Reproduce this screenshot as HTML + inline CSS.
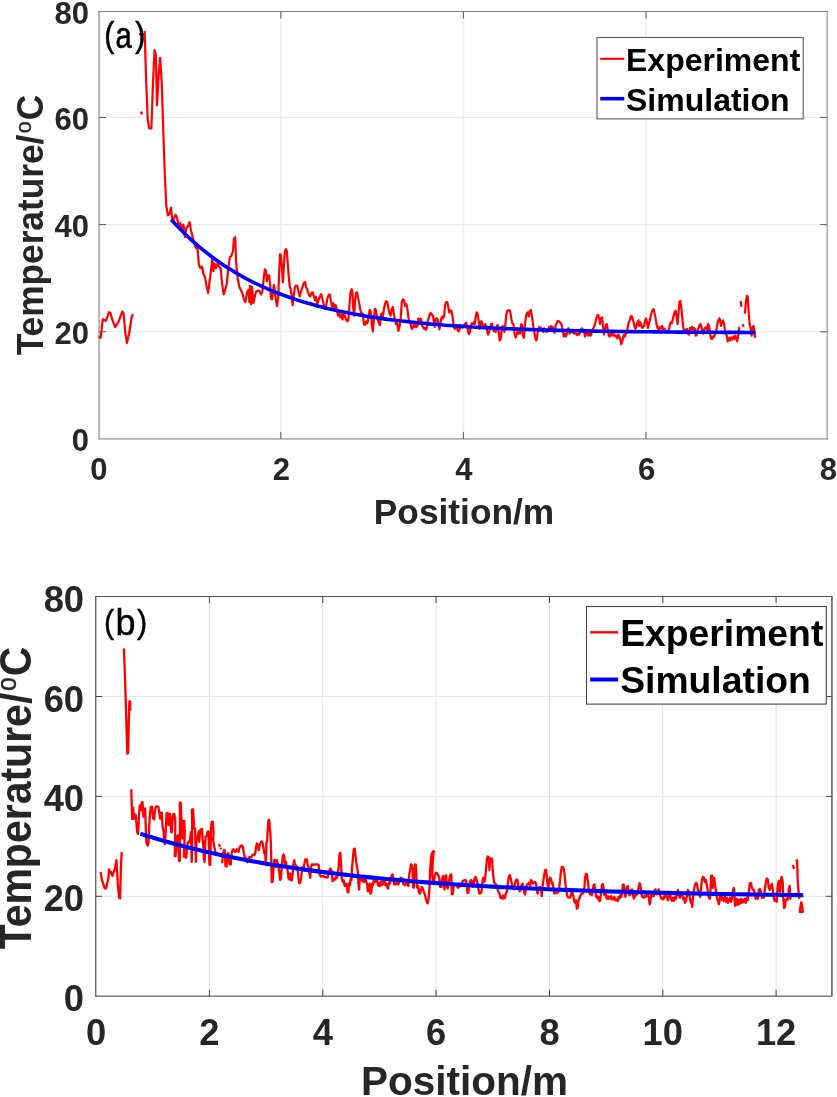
<!DOCTYPE html>
<html><head><meta charset="utf-8"><title>Temperature vs Position</title>
<style>
html,body{margin:0;padding:0;background:#fff;}
body{width:837px;height:1097px;overflow:hidden;}
svg{display:block;font-family:"Liberation Sans",Arial,sans-serif;will-change:transform;}
.tk{font-weight:bold;fill:#262626;}
.lg{font-weight:bold;fill:#000;}
</style></head><body>
<svg width="837" height="1097" viewBox="0 0 837 1097">
<rect width="837" height="1097" fill="#fff"/>
<line x1="280.8" y1="11.5" x2="280.8" y2="438.9" stroke="#f0f0f0" stroke-width="1.8"/>
<line x1="463.4" y1="11.5" x2="463.4" y2="438.9" stroke="#f0f0f0" stroke-width="1.8"/>
<line x1="646.0" y1="11.5" x2="646.0" y2="438.9" stroke="#f0f0f0" stroke-width="1.8"/>
<line x1="99.1" y1="331.8" x2="827.2" y2="331.8" stroke="#ebebeb" stroke-width="1.1"/>
<line x1="99.1" y1="224.6" x2="827.2" y2="224.6" stroke="#ebebeb" stroke-width="1.1"/>
<line x1="99.1" y1="117.4" x2="827.2" y2="117.4" stroke="#ebebeb" stroke-width="1.1"/>
<line x1="99.1" y1="11.0" x2="99.1" y2="439.7" stroke="#b6b6b6" stroke-width="2"/>
<line x1="98.1" y1="438.9" x2="827.8000000000001" y2="438.9" stroke="#b0b0b0" stroke-width="1.7"/>
<line x1="827.2" y1="11.0" x2="827.2" y2="439.7" stroke="#a0a0a0" stroke-width="1.3"/>
<line x1="98.1" y1="11.5" x2="827.8000000000001" y2="11.5" stroke="#808080" stroke-width="1"/>
<line x1="280.8" y1="438.9" x2="280.8" y2="431.9" stroke="#585858" stroke-width="1"/>
<line x1="280.8" y1="11.5" x2="280.8" y2="18.5" stroke="#585858" stroke-width="1"/>
<line x1="463.4" y1="438.9" x2="463.4" y2="431.9" stroke="#585858" stroke-width="1"/>
<line x1="463.4" y1="11.5" x2="463.4" y2="18.5" stroke="#585858" stroke-width="1"/>
<line x1="646.0" y1="438.9" x2="646.0" y2="431.9" stroke="#585858" stroke-width="1"/>
<line x1="646.0" y1="11.5" x2="646.0" y2="18.5" stroke="#585858" stroke-width="1"/>
<line x1="99.1" y1="331.8" x2="106.1" y2="331.8" stroke="#585858" stroke-width="1"/>
<line x1="827.2" y1="331.8" x2="820.2" y2="331.8" stroke="#585858" stroke-width="1"/>
<line x1="99.1" y1="224.6" x2="106.1" y2="224.6" stroke="#585858" stroke-width="1"/>
<line x1="827.2" y1="224.6" x2="820.2" y2="224.6" stroke="#585858" stroke-width="1"/>
<line x1="99.1" y1="117.4" x2="106.1" y2="117.4" stroke="#585858" stroke-width="1"/>
<line x1="827.2" y1="117.4" x2="820.2" y2="117.4" stroke="#585858" stroke-width="1"/>
<text class="tk" x="89" y="451.2" font-size="31" text-anchor="end">0</text>
<text class="tk" x="89" y="344.1" font-size="31" text-anchor="end">20</text>
<text class="tk" x="89" y="236.9" font-size="31" text-anchor="end">40</text>
<text class="tk" x="89" y="129.8" font-size="31" text-anchor="end">60</text>
<text class="tk" x="89" y="23.8" font-size="31" text-anchor="end">80</text>
<text class="tk" x="98.8" y="480.3" font-size="31" text-anchor="middle">0</text>
<text class="tk" x="281.3" y="480.3" font-size="31" text-anchor="middle">2</text>
<text class="tk" x="463.9" y="480.3" font-size="31" text-anchor="middle">4</text>
<text class="tk" x="646.5" y="480.3" font-size="31" text-anchor="middle">6</text>
<text class="tk" x="828.4" y="480.3" font-size="31" text-anchor="middle">8</text>
<text class="tk" x="464" y="524" font-size="35.3" text-anchor="middle">Position/m</text>
<text class="tk" font-size="35.25" text-anchor="middle" transform="translate(43.2,225.1) rotate(-90) scale(1,1.06)">Temperature/<tspan font-size="21.5" font-weight="normal" stroke="#262626" stroke-width="0.35" dx="1.5" dy="-11.4">o</tspan><tspan dx="0.9" dy="11.4">C</tspan></text>
<path d="M144.6,30.9 L146.2,82.0 L147.7,119.2 L149.3,128.5 L151.4,128.5 L153.0,82.0 L154.5,50.1 L155.8,54.1 L157.0,105.3 L158.6,75.8 L160.1,57.8 L161.7,82.0 L163.2,128.5 L164.8,175.0 L166.3,206.0 L167.9,215.3 L169.4,213.8 L171.0,207.6 L172.5,221.6 L174.1,218.4 L175.6,214.7 L177.2,218.4 L178.7,226.2 L180.3,223.1 L181.8,227.8 L183.4,224.7 L184.9,237.1 L186.5,227.8 L188.0,226.2 L189.6,222.2 L191.1,230.9 L192.7,237.1 L194.2,243.3 L195.8,247.9 L197.3,246.4 L198.9,265.0 L200.4,268.1 L202.0,266.5 L203.5,274.3 L205.1,277.4 L206.6,286.7 L208.2,292.9 L209.7,280.5 L211.3,268.1 L212.2,258.8 L213.4,271.2 L214.4,263.4 L215.9,268.1 L217.5,263.4 L219.0,266.5 L220.6,268.1 L222.1,283.6 L223.7,294.4 L225.2,289.8 L226.8,283.6 L228.3,268.1 L229.9,257.2 L231.4,255.7 L233.0,251.0 L233.9,238.6 L235.2,237.1 L236.1,261.9 L237.6,277.4 L239.2,286.7 L240.7,289.8 L242.3,292.9 L243.8,299.1 L245.4,302.2 L246.9,292.9 L248.5,289.8 L249.4,302.2 L250.0,285.9 L251.0,304.1 L251.9,286.9 L253.4,303.2 L254.8,296.5 L256.1,291.7 L257.6,290.7 L259.6,291.1 L261.1,294.6 L262.4,291.7 L263.8,277.3 L264.9,269.3 L265.9,270.7 L266.8,281.2 L267.8,275.4 L269.1,275.4 L270.1,285.0 L271.0,298.4 L272.0,299.3 L272.9,292.6 L273.9,285.0 L274.9,290.7 L275.8,300.3 L277.1,306.0 L278.3,296.5 L279.1,273.5 L280.0,254.0 L281.0,255.4 L281.9,267.8 L282.9,282.1 L283.8,267.8 L284.8,251.5 L285.9,249.1 L286.9,251.5 L287.8,264.0 L288.8,277.3 L289.8,286.9 L290.7,288.8 L291.7,296.5 L292.6,305.1 L293.6,296.5 L294.9,286.9 L296.3,285.4 L297.4,285.9 L298.7,292.6 L299.7,296.5 L301.2,290.7 L302.6,286.9 L303.9,282.7 L305.1,282.1 L306.0,286.9 L307.3,289.8 L308.9,294.6 L310.2,296.5 L311.6,292.6 L312.7,292.3 L314.0,296.5 L315.0,300.3 L315.9,296.5 L317.3,304.1 L318.4,300.3 L319.8,296.5 L321.1,294.2 L322.3,298.4 L323.6,304.1 L324.9,308.9 L326.1,306.0 L327.4,298.4 L328.8,294.6 L329.9,294.6 L331.1,302.2 L332.2,307.0 L333.3,303.2 L334.5,307.9 L335.6,305.1 L337.0,309.8 L337.9,315.6 L339.1,312.7 L340.2,317.5 L341.4,314.6 L342.5,319.4 L343.7,313.7 L344.8,315.6 L346.0,319.4 L347.1,321.3 L348.3,320.4 L349.4,306.0 L350.5,292.6 L351.7,289.2 L352.5,292.6 L353.2,307.9 L354.2,315.6 L355.1,300.3 L356.1,293.0 L357.0,292.3 L358.2,298.4 L359.3,304.1 L360.5,310.8 L361.6,313.7 L362.8,313.7 L363.9,324.2 L365.1,324.8 L366.2,321.3 L367.4,323.2 L368.5,317.5 L369.7,309.8 L370.8,311.8 L372.0,327.0 L372.9,331.3 L373.9,319.4 L374.8,308.9 L375.8,309.8 L376.7,315.6 L377.7,319.4 L378.8,323.2 L380.0,325.1 L380.9,314.6 L381.9,313.3 L382.9,317.5 L383.8,309.8 L385.0,304.1 L386.1,301.2 L387.3,302.2 L388.4,307.9 L389.5,313.7 L390.7,315.6 L391.8,308.9 L392.8,307.0 L393.8,313.7 L394.9,319.4 L396.0,324.2 L397.2,323.2 L398.3,330.9 L399.5,327.0 L400.6,319.4 L401.8,302.2 L402.9,299.3 L404.1,300.3 L405.2,306.0 L406.4,304.1 L407.5,309.8 L408.7,319.4 L410.7,324.1 L411.7,328.9 L412.6,327.9 L413.6,325.1 L414.6,327.0 L415.5,325.1 L416.5,327.0 L417.4,326.0 L418.4,318.4 L419.3,320.3 L420.3,318.8 L421.2,319.3 L422.2,326.0 L423.2,327.0 L424.1,328.9 L425.1,327.9 L426.0,329.8 L427.0,327.9 L427.9,320.3 L428.9,317.4 L429.9,313.6 L430.8,313.0 L431.8,314.6 L432.7,315.5 L433.7,320.3 L434.6,327.0 L435.6,319.3 L436.5,318.4 L437.5,319.3 L438.5,324.1 L439.4,329.5 L440.4,324.1 L441.3,318.4 L442.3,316.5 L443.2,318.4 L444.2,315.5 L445.1,305.0 L446.1,302.1 L447.4,302.1 L448.6,308.8 L449.3,312.6 L450.5,310.3 L451.6,311.1 L452.8,318.4 L453.7,326.0 L454.7,328.9 L455.7,327.9 L456.6,326.0 L457.6,329.8 L458.5,331.4 L459.5,329.8 L460.4,325.1 L461.4,327.0 L462.3,327.6 L463.3,327.0 L464.3,325.1 L465.2,324.1 L466.2,322.6 L467.1,326.0 L468.1,331.8 L469.0,334.1 L470.0,331.8 L470.9,326.0 L471.9,323.2 L472.9,324.1 L473.8,322.2 L474.8,324.1 L475.7,316.5 L476.7,312.3 L477.6,313.6 L478.6,320.3 L479.6,328.9 L480.5,324.1 L481.5,321.2 L482.4,324.1 L483.4,327.0 L484.3,327.9 L485.3,324.1 L486.2,326.0 L487.2,331.8 L488.2,334.6 L489.1,331.8 L490.1,327.9 L491.0,324.1 L492.0,323.7 L492.9,327.9 L493.9,331.4 L494.8,329.8 L495.8,331.8 L496.8,326.0 L497.7,325.1 L498.7,331.8 L499.6,340.4 L500.6,339.4 L501.5,331.8 L502.5,326.0 L503.4,327.0 L504.4,331.8 L505.4,324.1 L506.3,314.6 L507.3,310.7 L508.2,310.3 L509.8,310.3 L510.7,314.6 L511.7,321.2 L512.6,323.2 L513.6,325.1 L514.5,333.7 L515.5,337.5 L516.4,335.6 L517.4,331.8 L518.4,333.7 L519.3,330.8 L520.3,333.7 L521.2,324.1 L522.2,325.1 L523.1,335.6 L523.9,337.9 L524.7,327.9 L525.4,320.3 L526.6,313.6 L527.7,312.3 L528.9,316.5 L529.8,311.1 L530.8,309.8 L531.7,314.6 L532.7,322.2 L533.6,327.9 L534.6,333.7 L535.6,339.4 L536.5,340.4 L537.5,333.7 L538.4,328.9 L539.4,327.0 L540.3,328.3 L541.3,327.9 L542.3,330.8 L543.2,331.8 L544.2,328.3 L545.1,331.4 L546.1,329.8 L547.0,331.8 L548.0,331.4 L548.9,327.0 L549.9,327.9 L550.9,326.0 L551.8,328.3 L552.8,327.0 L553.7,331.8 L554.7,332.7 L555.6,326.0 L556.6,323.2 L557.5,321.2 L558.9,321.2 L560.0,322.2 L561.0,323.2 L561.9,326.0 L562.9,331.8 L563.8,336.5 L564.8,333.7 L565.7,336.5 L566.7,334.6 L567.6,328.9 L568.6,328.3 L569.6,333.7 L570.5,331.4 L571.5,329.8 L572.4,332.7 L573.4,329.8 L574.3,333.7 L575.3,332.7 L576.2,333.7 L577.2,335.2 L578.2,333.7 L579.1,334.6 L580.1,331.8 L581.0,328.9 L582.0,328.3 L582.9,329.5 L583.9,329.8 L584.9,336.5 L585.8,334.6 L586.8,332.7 L587.7,334.6 L588.7,335.6 L589.6,332.7 L590.6,335.6 L591.5,333.7 L592.5,329.8 L593.5,327.9 L594.4,326.0 L595.4,322.2 L596.3,318.4 L597.3,315.5 L598.2,314.9 L599.2,318.4 L600.1,324.1 L601.1,318.0 L602.1,317.4 L603.0,326.0 L604.0,334.6 L604.9,329.8 L605.9,325.1 L606.8,324.1 L607.8,329.8 L608.7,335.6 L609.7,336.5 L610.7,333.7 L611.6,335.6 L612.6,333.7 L613.5,335.6 L614.5,334.6 L615.4,336.5 L616.4,335.6 L617.3,338.4 L618.3,334.6 L619.3,336.5 L620.2,339.4 L621.2,344.2 L622.1,342.3 L623.1,337.5 L624.0,334.6 L625.0,336.5 L625.9,333.7 L626.9,332.7 L627.9,326.0 L628.8,322.2 L629.8,320.3 L630.7,316.5 L631.7,316.1 L632.6,318.4 L633.6,322.2 L634.6,327.0 L635.5,328.9 L636.5,326.0 L637.4,322.2 L638.4,320.3 L639.3,326.0 L640.3,322.2 L641.2,325.1 L642.2,327.9 L643.2,327.0 L644.1,326.0 L645.1,320.3 L646.0,318.4 L647.0,322.2 L647.9,327.9 L648.9,324.1 L649.8,320.3 L650.8,315.5 L651.8,311.7 L652.7,309.8 L653.7,309.2 L654.6,313.6 L655.6,318.4 L656.5,324.1 L657.5,327.9 L658.4,328.9 L659.4,327.0 L660.4,328.9 L661.3,327.0 L662.3,326.0 L663.2,329.8 L664.2,328.9 L665.1,329.8 L666.1,330.8 L667.0,331.8 L668.0,332.7 L669.0,329.8 L669.9,324.1 L670.9,322.2 L671.8,323.2 L672.8,319.3 L673.7,315.5 L674.7,311.7 L675.7,310.7 L676.6,316.5 L677.6,324.1 L678.5,312.6 L679.5,301.6 L680.4,300.8 L681.4,308.8 L682.3,318.4 L683.3,327.9 L684.3,330.8 L685.2,329.8 L686.2,330.8 L687.1,328.9 L688.1,334.1 L689.0,334.6 L690.0,327.9 L690.9,328.9 L691.9,327.0 L692.9,331.8 L693.8,327.9 L694.8,328.9 L695.7,335.6 L696.7,334.6 L697.6,329.8 L698.6,327.9 L699.5,325.1 L700.5,324.1 L701.5,327.0 L702.4,331.8 L703.4,333.7 L704.3,328.9 L705.3,327.9 L706.2,327.0 L707.2,330.8 L708.1,324.1 L709.1,326.0 L710.1,333.7 L711.0,338.4 L712.0,339.0 L712.9,336.5 L713.9,337.1 L714.8,334.6 L715.8,331.8 L716.8,327.9 L717.7,322.2 L718.7,319.3 L719.6,318.4 L720.0,320.3 L721.0,326.0 L721.9,322.2 L722.9,320.3 L723.8,322.2 L724.8,328.9 L725.7,333.7 L726.7,335.6 L727.7,341.3 L728.6,340.4 L729.6,337.5 L730.5,340.4 L731.5,337.5 L732.4,339.4 L733.4,336.5 L734.3,339.0 L735.3,335.6 L736.3,338.4 L737.2,341.3 L738.2,335.6 L739.1,327.9 L739.7,328.9" fill="none" stroke="#ff0000" stroke-width="2.2" stroke-linejoin="round"/>
<path d="M740.7,301.2 L741.4,306.9" fill="none" stroke="#ff0000" stroke-width="2.2" stroke-linejoin="round"/>
<path d="M742.9,324.1 L743.5,327.0" fill="none" stroke="#ff0000" stroke-width="2.2" stroke-linejoin="round"/>
<path d="M744.9,313.6 L745.8,303.1 L746.8,295.8 L747.7,296.4 L748.7,312.6 L749.6,324.1 L750.6,327.9 L751.6,335.6 L752.5,327.0 L753.5,326.0 L754.4,331.8 L755.0,337.9" fill="none" stroke="#ff0000" stroke-width="2.2" stroke-linejoin="round"/>
<path d="M98.7,336.3 L100.6,337.8 L102.8,319.2 L105.9,320.8 L109.0,312.1 L110.5,313.0 L112.1,319.2 L115.2,327.0 L118.3,322.3 L122.3,311.5 L123.5,313.0 L125.4,333.2 L126.9,343.1 L129.1,333.2 L131.6,317.7 L132.8,314.0" fill="none" stroke="#ff0000" stroke-width="2.2" stroke-linejoin="round"/>
<path d="M139.7,33.0 L140.6,35.5" fill="none" stroke="#ff0000" stroke-width="2.2" stroke-linejoin="round"/>
<path d="M141.2,111.5 L141.8,114.6" fill="none" stroke="#ff0000" stroke-width="2.2" stroke-linejoin="round"/>
<path d="M171.2,219.6 L175.8,224.6 L180.4,229.3 L184.9,233.8 L189.5,238.2 L194.1,242.3 L198.6,246.3 L203.2,250.1 L207.8,253.7 L212.3,257.2 L216.9,260.5 L221.5,263.7 L226.0,266.7 L230.6,269.6 L235.2,272.4 L239.7,275.0 L244.3,277.6 L248.8,280.0 L253.4,282.3 L258.0,284.5 L262.5,286.6 L267.1,288.7 L271.7,290.6 L276.2,292.4 L280.8,294.2 L285.4,295.9 L289.9,297.5 L294.5,299.1 L299.1,300.6 L303.6,302.0 L308.2,303.3 L312.8,304.6 L317.3,305.9 L321.9,307.0 L326.4,308.2 L331.0,309.3 L335.6,310.3 L340.1,311.3 L344.7,312.2 L349.3,313.1 L353.8,314.0 L358.4,314.8 L363.0,315.6 L367.5,316.4 L372.1,317.1 L376.7,317.8 L381.2,318.4 L385.8,319.1 L390.4,319.7 L394.9,320.3 L399.5,320.8 L404.1,321.3 L408.6,321.8 L413.2,322.3 L417.7,322.8 L422.3,323.2 L426.9,323.6 L431.4,324.1 L436.0,324.4 L440.6,324.8 L445.1,325.2 L449.7,325.5 L454.3,325.8 L458.8,326.1 L463.4,326.4 L468.0,326.7 L472.5,327.0 L477.1,327.2 L481.7,327.5 L486.2,327.7 L490.8,327.9 L495.4,328.2 L499.9,328.4 L504.5,328.6 L509.0,328.8 L513.6,328.9 L518.2,329.1 L522.7,329.3 L527.3,329.4 L531.9,329.6 L536.4,329.7 L541.0,329.9 L545.6,330.0 L550.1,330.1 L554.7,330.2 L559.3,330.4 L563.8,330.5 L568.4,330.6 L573.0,330.7 L577.5,330.8 L582.1,330.9 L586.7,330.9 L591.2,331.0 L595.8,331.1 L600.3,331.2 L604.9,331.3 L609.5,331.3 L614.0,331.4 L618.6,331.5 L623.2,331.5 L627.7,331.6 L632.3,331.6 L636.9,331.7 L641.4,331.7 L646.0,331.8 L650.6,331.8 L655.1,331.9 L659.7,331.9 L664.3,332.0 L668.8,332.0 L673.4,332.0 L678.0,332.1 L682.5,332.1 L687.1,332.1 L691.6,332.2 L696.2,332.2 L700.8,332.2 L705.3,332.3 L709.9,332.3 L714.5,332.3 L719.0,332.3 L723.6,332.4 L728.2,332.4 L732.7,332.4 L737.3,332.4 L741.9,332.4 L746.4,332.5 L751.0,332.5 L755.6,332.5" fill="none" stroke="#0000ff" stroke-width="3.6" stroke-linecap="butt"/>
<rect x="597" y="37.5" width="206.2" height="81.4" fill="#fff" stroke="#5a5a5a" stroke-width="1.1"/>
<line x1="600.2" y1="58.8" x2="624.3" y2="58.8" stroke="#ff0000" stroke-width="2.1"/>
<line x1="600.2" y1="98.7" x2="624.3" y2="98.7" stroke="#0000ff" stroke-width="3.6"/>
<text class="lg" x="626" y="70.7" font-size="32">Experiment</text>
<text class="lg" x="626" y="110.6" font-size="32">Simulation</text>
<text font-size="35" fill="#000" stroke="#000" stroke-width="0.6" transform="translate(104.2,46.8) scale(0.86,1)">(</text>
<text font-size="36.5" fill="#000" stroke="#000" stroke-width="0.6" transform="translate(115.6,47.6) scale(0.8,1)">a</text>
<text font-size="35" fill="#000" stroke="#000" stroke-width="0.6" transform="translate(135.2,46.8) scale(0.86,1)">)</text>
<line x1="209.4" y1="596.5" x2="209.4" y2="996.2" stroke="#e2e2e2" stroke-width="1"/>
<line x1="322.8" y1="596.5" x2="322.8" y2="996.2" stroke="#e2e2e2" stroke-width="1"/>
<line x1="436.1" y1="596.5" x2="436.1" y2="996.2" stroke="#e2e2e2" stroke-width="1"/>
<line x1="549.5" y1="596.5" x2="549.5" y2="996.2" stroke="#e2e2e2" stroke-width="1"/>
<line x1="662.8" y1="596.5" x2="662.8" y2="996.2" stroke="#e2e2e2" stroke-width="1"/>
<line x1="776.1" y1="596.5" x2="776.1" y2="996.2" stroke="#e2e2e2" stroke-width="1"/>
<line x1="95.75" y1="896.3" x2="832.3" y2="896.3" stroke="#e9e9e9" stroke-width="1.2"/>
<line x1="95.75" y1="796.4" x2="832.3" y2="796.4" stroke="#e9e9e9" stroke-width="1.2"/>
<line x1="95.75" y1="696.5" x2="832.3" y2="696.5" stroke="#e9e9e9" stroke-width="1.2"/>
<line x1="95.75" y1="595.9" x2="95.75" y2="996.8000000000001" stroke="#606060" stroke-width="1.3"/>
<line x1="95.15" y1="996.2" x2="831.9" y2="996.2" stroke="#606060" stroke-width="1.25"/>
<line x1="831.9" y1="595.9" x2="831.9" y2="996.8000000000001" stroke="#747474" stroke-width="1.8"/>
<line x1="95.15" y1="596.5" x2="832.5" y2="596.5" stroke="#565656" stroke-width="1.2"/>
<line x1="209.4" y1="996.2" x2="209.4" y2="989.7" stroke="#444444" stroke-width="1"/>
<line x1="209.4" y1="596.5" x2="209.4" y2="603.0" stroke="#444444" stroke-width="1"/>
<line x1="322.8" y1="996.2" x2="322.8" y2="989.7" stroke="#444444" stroke-width="1"/>
<line x1="322.8" y1="596.5" x2="322.8" y2="603.0" stroke="#444444" stroke-width="1"/>
<line x1="436.1" y1="996.2" x2="436.1" y2="989.7" stroke="#444444" stroke-width="1"/>
<line x1="436.1" y1="596.5" x2="436.1" y2="603.0" stroke="#444444" stroke-width="1"/>
<line x1="549.5" y1="996.2" x2="549.5" y2="989.7" stroke="#444444" stroke-width="1"/>
<line x1="549.5" y1="596.5" x2="549.5" y2="603.0" stroke="#444444" stroke-width="1"/>
<line x1="662.8" y1="996.2" x2="662.8" y2="989.7" stroke="#444444" stroke-width="1"/>
<line x1="662.8" y1="596.5" x2="662.8" y2="603.0" stroke="#444444" stroke-width="1"/>
<line x1="776.1" y1="996.2" x2="776.1" y2="989.7" stroke="#444444" stroke-width="1"/>
<line x1="776.1" y1="596.5" x2="776.1" y2="603.0" stroke="#444444" stroke-width="1"/>
<line x1="95.75" y1="896.3" x2="102.25" y2="896.3" stroke="#444444" stroke-width="1"/>
<line x1="832.3" y1="896.3" x2="825.8" y2="896.3" stroke="#444444" stroke-width="1"/>
<line x1="95.75" y1="796.4" x2="102.25" y2="796.4" stroke="#444444" stroke-width="1"/>
<line x1="832.3" y1="796.4" x2="825.8" y2="796.4" stroke="#444444" stroke-width="1"/>
<line x1="95.75" y1="696.5" x2="102.25" y2="696.5" stroke="#444444" stroke-width="1"/>
<line x1="832.3" y1="696.5" x2="825.8" y2="696.5" stroke="#444444" stroke-width="1"/>
<text class="tk" x="84" y="1011.2" font-size="36.3" text-anchor="end">0</text>
<text class="tk" x="84" y="911.3" font-size="36.3" text-anchor="end">20</text>
<text class="tk" x="84" y="811.4" font-size="36.3" text-anchor="end">40</text>
<text class="tk" x="84" y="711.5" font-size="36.3" text-anchor="end">60</text>
<text class="tk" x="84" y="611.5" font-size="36.3" text-anchor="end">80</text>
<text class="tk" x="96.1" y="1045" font-size="36.3" text-anchor="middle">0</text>
<text class="tk" x="209.4" y="1045" font-size="36.3" text-anchor="middle">2</text>
<text class="tk" x="322.8" y="1045" font-size="36.3" text-anchor="middle">4</text>
<text class="tk" x="436.1" y="1045" font-size="36.3" text-anchor="middle">6</text>
<text class="tk" x="549.5" y="1045" font-size="36.3" text-anchor="middle">8</text>
<text class="tk" x="662.8" y="1045" font-size="36.3" text-anchor="middle">10</text>
<text class="tk" x="776.1" y="1045" font-size="36.3" text-anchor="middle">12</text>
<text class="tk" x="464.5" y="1094.5" font-size="40.5" text-anchor="middle">Position/m</text>
<text class="tk" font-size="41.0" text-anchor="middle" transform="translate(31.0,798) rotate(-90) scale(1,1.09)">Temperature/<tspan font-size="25" font-weight="normal" stroke="#262626" stroke-width="0.4" dx="1.7" dy="-13.4">o</tspan><tspan dx="0.9" dy="13.4">C</tspan></text>
<path d="M221.3,861.9 L222.2,862.3 L223.0,853.5 L223.9,850.2 L224.7,850.2 L225.1,858.5 L225.5,866.1 L226.6,866.5 L227.2,858.5 L227.6,853.5 L228.5,853.5 L229.1,860.2 L229.7,864.4 L230.8,864.4 L231.1,858.5 L231.6,853.5 L232.5,850.2 L233.5,849.3 L234.3,850.2 L235.1,851.9 L236.0,851.0 L236.8,849.3 L237.7,850.2 L238.5,851.9 L239.3,848.5 L240.2,846.4 L241.0,845.6 L242.3,845.6 L243.1,848.5 L243.9,853.5 L244.8,856.9 L245.6,857.7 L246.4,860.2 L247.3,862.3 L248.1,860.2 L248.9,857.7 L249.8,856.9 L250.6,857.7 L251.5,856.9 L252.3,855.2 L253.5,854.4 L254.4,855.2 L255.2,853.5 L256.1,846.8 L256.9,843.5 L257.7,844.3 L258.6,850.2 L259.4,846.8 L260.2,843.5 L261.1,841.8 L261.9,841.4 L262.7,843.5 L263.6,848.5 L264.4,853.5 L265.1,851.9 L265.9,865.2 L266.4,843.5 L267.1,840.1 L267.7,830.1 L268.4,820.1 L269.2,819.7 L270.1,830.1 L270.9,843.5 L271.4,866.9 L271.7,882.0 L272.6,882.0 L273.4,870.3 L274.3,860.2 L275.1,859.9 L275.9,866.9 L276.8,860.2 L277.6,863.6 L278.4,866.9 L279.3,871.9 L280.1,880.0 L280.9,878.6 L281.8,866.9 L282.6,856.9 L283.5,854.4 L284.3,856.9 L285.1,866.9 L286.0,861.9 L286.8,866.9 L287.6,870.3 L288.5,878.6 L289.3,879.5 L290.1,873.6 L291.0,880.0 L291.8,880.3 L292.7,873.6 L293.5,863.6 L294.3,860.2 L295.2,866.9 L296.0,865.2 L296.8,866.9 L297.7,870.3 L298.5,878.6 L299.3,883.3 L300.2,882.8 L301.0,878.6 L301.9,871.9 L302.7,866.9 L303.5,868.6 L304.4,863.6 L305.2,859.4 L306.9,859.4 L307.7,865.2 L308.5,866.9 L309.4,873.6 L310.2,877.8 L311.1,866.9 L311.9,864.4 L313.6,864.9 L315.2,864.4 L316.9,864.4 L318.6,864.9 L319.1,870.3 L319.9,875.3 L321.1,876.6 L322.8,876.1 L324.4,876.9 L326.1,877.3 L327.8,877.3 L328.6,873.6 L329.5,870.3 L330.3,868.6 L331.1,869.4 L332.0,873.6 L332.5,881.1 L333.6,880.3 L334.5,878.6 L335.3,879.5 L336.1,876.9 L337.0,877.8 L337.8,873.6 L338.6,866.9 L339.5,853.5 L340.3,852.7 L341.2,866.9 L341.7,878.6 L342.8,882.0 L343.7,880.3 L344.5,885.3 L345.3,886.1 L346.2,883.6 L347.0,885.3 L347.5,892.0 L348.4,892.3 L349.0,883.6 L349.9,885.3 L350.7,878.6 L351.5,880.3 L352.0,868.6 L352.9,858.5 L353.7,849.3 L354.7,848.8 L355.4,855.2 L356.2,861.9 L357.0,866.9 L357.9,871.9 L358.4,883.6 L359.1,889.5 L359.7,878.6 L360.4,880.3 L361.2,878.6 L362.1,881.1 L362.9,878.6 L363.7,882.0 L364.6,880.3 L365.4,878.6 L366.2,882.0 L367.1,883.6 L367.8,891.2 L368.4,885.3 L369.1,891.2 L369.8,883.6 L370.4,893.7 L371.3,892.8 L372.1,883.6 L372.9,885.3 L373.8,880.3 L374.6,878.6 L375.4,882.0 L376.3,879.5 L377.1,880.3 L378.0,885.3 L378.8,883.6 L379.6,886.1 L380.5,882.0 L381.3,885.3 L382.1,881.1 L383.0,884.5 L383.8,882.0 L384.6,880.3 L385.5,885.3 L386.3,883.6 L387.2,887.0 L388.0,888.6 L388.8,883.6 L389.7,882.0 L390.0,883.6 L390.8,878.5 L391.7,875.2 L392.5,874.4 L393.3,877.7 L394.2,884.4 L395.0,883.6 L395.9,884.4 L396.7,881.9 L397.5,883.6 L398.4,884.4 L399.2,881.9 L400.0,878.5 L400.9,877.7 L401.7,879.4 L402.5,878.5 L403.4,884.4 L404.2,883.6 L405.1,885.2 L405.9,884.4 L406.7,881.9 L407.6,884.4 L408.4,886.1 L409.2,875.2 L410.1,870.2 L410.9,864.3 L411.7,864.8 L412.6,870.2 L413.1,886.9 L413.8,887.7 L414.3,870.2 L415.1,864.3 L415.9,864.8 L416.4,876.9 L417.1,887.7 L418.1,886.1 L418.8,891.9 L419.8,893.6 L420.8,890.3 L421.8,886.9 L422.8,888.6 L423.8,891.9 L424.8,894.4 L425.8,898.6 L426.8,902.0 L427.8,903.3 L428.8,896.9 L429.5,886.9 L430.1,870.2 L431.0,858.5 L431.8,853.5 L432.8,851.8 L433.8,850.9 L433.2,856.8 L432.7,863.5 L432.2,875.2 L433.2,881.9 L433.8,883.6 L434.8,875.2 L436.0,872.7 L437.2,873.2 L438.2,875.2 L439.2,877.7 L440.2,886.9 L441.2,886.9 L442.2,878.5 L443.2,876.0 L443.9,886.9 L444.5,889.4 L445.2,876.9 L446.2,875.2 L446.9,886.9 L447.7,888.6 L448.5,885.2 L449.4,878.5 L450.2,875.2 L451.2,874.4 L451.6,886.9 L451.9,894.4 L452.9,893.6 L453.6,885.2 L455.2,884.4 L456.9,885.2 L457.7,887.7 L459.4,886.9 L461.1,884.4 L462.8,881.1 L464.4,880.2 L466.1,880.5 L466.9,886.9 L467.4,892.8 L468.3,892.8 L468.9,886.9 L470.0,881.9 L471.1,879.9 L472.0,881.1 L472.8,886.9 L473.6,886.1 L474.5,878.5 L475.6,876.9 L476.6,880.2 L477.6,883.6 L478.6,890.3 L479.5,893.6 L481.2,892.8 L482.0,886.9 L482.8,878.5 L483.7,877.7 L484.5,881.9 L485.3,876.9 L486.2,866.8 L487.0,858.5 L487.8,856.5 L488.7,857.1 L489.5,870.2 L490.0,860.1 L490.9,858.5 L492.0,858.8 L492.7,870.2 L493.4,876.9 L494.0,881.9 L495.0,883.6 L496.2,884.4 L497.0,886.9 L497.9,890.3 L498.7,892.8 L499.6,893.6 L500.4,897.8 L502.1,898.3 L502.9,895.3 L503.7,898.6 L505.1,897.8 L505.7,893.6 L506.8,891.9 L507.4,886.9 L508.1,881.9 L508.8,876.9 L509.8,875.2 L510.8,878.5 L511.8,883.6 L512.8,888.6 L513.8,889.4 L514.6,885.2 L515.4,881.9 L516.5,879.4 L517.5,880.2 L518.5,886.9 L519.5,891.1 L520.5,890.3 L521.5,885.2 L522.5,883.6 L523.5,886.9 L524.5,893.6 L525.1,894.4 L526.2,886.9 L527.2,884.4 L528.2,883.6 L529.2,882.7 L530.0,886.9 L530.8,880.2 L532.0,881.0 L533.0,883.5 L534.0,882.7 L535.0,881.9 L536.0,883.5 L536.7,888.5 L537.5,893.6 L538.4,890.2 L539.2,887.7 L540.0,886.9 L540.9,888.5 L541.7,896.1 L542.5,886.9 L543.4,880.2 L544.2,875.2 L545.1,870.1 L546.1,869.8 L546.7,875.2 L547.6,885.2 L548.4,886.9 L549.2,880.2 L550.1,877.7 L550.9,878.5 L551.7,883.5 L552.6,882.7 L553.4,888.5 L554.3,893.6 L555.1,892.7 L556.8,893.2 L558.4,891.9 L559.3,886.9 L560.1,880.2 L560.9,871.8 L561.8,867.1 L563.1,866.8 L564.0,870.1 L564.8,876.8 L565.5,884.4 L566.1,888.5 L566.8,893.6 L567.6,896.9 L568.5,897.7 L570.1,897.7 L571.0,894.4 L571.8,891.9 L572.7,893.6 L573.5,896.9 L574.3,901.9 L575.2,902.8 L576.0,900.3 L576.8,908.6 L577.7,907.8 L578.5,900.3 L579.3,898.6 L580.2,896.1 L581.0,894.4 L581.9,893.6 L583.5,893.2 L584.4,886.9 L585.2,876.8 L586.0,873.8 L586.9,874.3 L587.7,880.2 L588.5,886.9 L589.4,892.7 L590.2,894.4 L591.1,891.9 L591.9,895.2 L592.7,890.2 L593.6,885.2 L594.4,884.4 L595.2,890.2 L596.1,896.9 L596.9,896.1 L597.7,898.6 L598.6,896.9 L599.4,901.1 L600.3,900.3 L601.1,891.9 L601.9,885.2 L602.8,883.9 L603.6,888.5 L604.4,895.2 L605.3,890.2 L606.1,896.9 L606.9,898.6 L607.8,896.1 L608.6,898.9 L609.5,896.9 L610.3,898.6 L611.1,896.1 L612.0,899.4 L612.8,897.7 L613.6,899.4 L614.5,896.9 L615.3,900.3 L616.1,899.4 L617.0,900.3 L617.8,901.1 L618.6,896.9 L619.5,898.6 L620.3,895.2 L621.2,896.9 L622.0,893.6 L622.8,885.2 L623.7,884.4 L624.5,890.2 L625.3,896.9 L626.2,893.6 L627.0,886.9 L627.8,886.0 L628.7,891.9 L629.5,895.2 L630.4,894.4 L631.2,890.2 L632.0,889.4 L632.9,893.6 L633.7,898.6 L634.5,896.9 L635.4,894.4 L636.2,895.2 L637.0,893.6 L637.9,891.9 L638.7,886.9 L639.6,883.2 L640.4,885.2 L641.2,891.9 L642.1,896.9 L642.9,896.1 L643.7,897.7 L644.6,896.1 L645.4,896.9 L646.2,895.2 L647.1,896.1 L647.9,894.4 L648.8,896.1 L649.6,904.4 L650.4,900.3 L651.3,895.2 L652.1,896.1 L652.9,894.4 L653.8,896.1 L654.6,890.2 L655.4,889.4 L656.3,893.6 L657.1,894.4 L658.0,890.2 L658.8,889.4 L659.6,893.6 L660.5,896.1 L661.3,898.6 L662.1,897.7 L663.0,899.4 L663.8,898.6 L664.6,895.2 L665.5,896.9 L666.3,894.4 L667.2,896.9 L668.0,900.3 L668.8,896.9 L669.7,895.2 L670.0,893.8 L671.0,898.8 L672.0,900.8 L673.0,897.8 L674.0,900.8 L675.0,896.8 L676.0,898.8 L677.0,891.9 L678.0,889.9 L679.0,895.8 L680.0,897.8 L681.0,893.8 L682.0,891.9 L683.0,898.8 L684.0,897.8 L685.0,902.8 L686.0,899.8 L687.0,895.8 L688.0,889.9 L689.0,891.9 L690.0,898.8 L690.9,902.8 L691.5,899.8 L692.3,906.8 L692.9,898.8 L693.9,889.9 L694.9,884.9 L695.9,882.9 L696.9,883.9 L697.9,889.9 L698.9,891.9 L699.9,896.8 L700.9,889.9 L701.9,879.9 L702.9,876.9 L703.9,877.9 L704.9,881.9 L705.9,879.9 L706.9,885.9 L707.9,891.9 L708.9,897.8 L709.9,898.8 L710.5,889.9 L711.1,875.9 L711.9,875.5 L712.7,887.9 L713.5,877.9 L714.3,877.9 L715.1,885.9 L715.9,889.9 L716.9,897.8 L717.9,900.8 L718.9,904.2 L719.9,897.8 L720.9,892.8 L721.9,899.8 L722.9,897.8 L723.9,900.8 L724.9,896.8 L725.9,901.8 L726.9,897.8 L727.9,902.8 L728.9,900.8 L729.9,897.8 L730.9,901.8 L731.9,898.8 L732.8,891.9 L733.8,887.9 L734.4,893.8 L735.0,905.8 L735.8,904.8 L736.8,898.8 L737.8,904.8 L738.8,899.8 L739.8,903.8 L740.8,898.8 L741.8,902.8 L742.8,899.8 L743.8,901.8 L744.8,898.8 L745.8,902.8 L746.8,897.8 L747.8,899.8 L748.8,891.9 L749.8,883.5 L750.8,882.9 L751.8,886.9 L752.8,889.9 L753.8,889.9 L754.8,893.8 L755.8,898.8 L756.8,897.8 L757.8,898.8 L758.8,889.9 L759.8,888.9 L760.8,891.9 L761.8,897.8 L762.8,896.8 L763.8,897.8 L764.8,889.9 L765.8,881.9 L766.8,878.3 L767.8,879.9 L768.8,887.9 L769.8,889.9 L770.8,885.9 L771.8,883.9 L772.8,889.9 L773.8,897.8 L774.7,900.8 L775.7,898.8 L776.7,901.8 L777.7,885.9 L778.7,880.9 L779.3,889.9 L780.1,891.9 L780.9,879.9 L781.7,876.9 L782.7,881.9 L783.3,897.8 L784.1,907.8 L784.9,906.8 L785.7,899.8 L786.7,898.8 L787.7,899.8 L788.7,889.9 L789.7,885.9 L790.3,898.8 L791.3,893.8" fill="none" stroke="#ff0000" stroke-width="2.3" stroke-linejoin="round"/>
<path d="M100.6,872.0 L101.9,879.9 L103.2,883.9 L104.5,887.9 L105.9,888.6 L107.2,883.9 L108.5,877.3 L109.0,869.3 L110.1,873.3 L111.2,872.0 L112.5,876.0 L113.8,872.0 L115.1,868.0 L116.4,860.1 L117.8,883.9 L119.1,897.6 L120.1,898.4 L120.9,868.0 L121.7,852.1" fill="none" stroke="#ff0000" stroke-width="2.3" stroke-linejoin="round"/>
<path d="M123.9,648.5 L125.2,682.9 L126.2,717.3 L127.3,753.8 L128.1,753.0 L128.9,717.3 L129.4,701.4 L130.2,701.4 L130.2,710.7" fill="none" stroke="#ff0000" stroke-width="2.3" stroke-linejoin="round"/>
<path d="M218.8,844.3 L220.1,846.8" fill="none" stroke="#ff0000" stroke-width="2.3" stroke-linejoin="round"/>
<path d="M220.5,847.7 L221.3,849.3" fill="none" stroke="#ff0000" stroke-width="2.3" stroke-linejoin="round"/>
<path d="M131.3,789.2 L131.7,805.9 L132.2,818.9 L133.2,807.6 L133.8,818.9 L134.7,814.3 L135.7,815.1 L136.4,822.6 L137.2,832.3 L138.0,833.9 L138.7,822.6 L139.2,812.6 L139.7,805.9 L140.5,805.1 L141.2,810.1 L141.7,802.6 L142.5,802.1 L143.0,810.1 L143.4,816.8 L144.2,809.3 L145.1,808.4 L145.5,818.5 L145.9,831.0 L146.4,842.7 L147.6,845.6 L148.4,843.5 L148.9,835.2 L149.4,822.6 L150.1,812.6 L150.9,806.7 L152.2,806.9 L152.6,812.6 L153.1,818.5 L154.3,819.3 L154.7,812.6 L155.1,810.1 L155.9,806.7 L157.2,806.3 L158.4,806.9 L158.9,810.1 L159.4,813.4 L160.1,818.5 L160.9,812.6 L161.8,812.6 L162.2,820.1 L162.6,826.8 L163.5,830.2 L163.9,836.9 L164.3,843.5 L165.1,844.0 L165.5,835.2 L166.0,825.1 L166.5,813.4 L167.6,813.0 L168.1,818.5 L168.5,825.1 L169.0,818.5 L169.3,814.3 L170.1,813.9 L170.6,820.1 L171.0,831.8 L171.8,832.3 L172.2,824.3 L172.7,818.5 L173.2,814.3 L174.3,813.9 L174.7,816.8 L175.2,817.6 L175.3,826.8 L175.0,843.5 L174.7,856.1 L175.6,856.1 L176.0,848.6 L176.8,838.5 L177.8,835.2 L178.5,850.2 L179.0,861.1 L179.8,860.7 L180.0,843.5 L179.9,818.5 L179.8,802.6 L180.7,802.6 L181.0,810.1 L181.5,820.1 L181.9,831.8 L182.4,838.5 L182.7,828.5 L183.2,821.0 L184.4,821.0 L184.7,831.8 L184.4,843.5 L183.9,856.9 L184.8,856.9 L185.5,848.6 L186.2,857.8 L186.9,850.2 L187.7,842.7 L188.5,842.7 L189.4,841.0 L190.2,838.5 L190.9,831.8 L191.2,843.5 L191.7,861.9 L192.2,843.5 L192.1,818.5 L191.9,809.7 L193.1,809.3 L193.6,818.5 L194.1,828.5 L195.1,828.5 L195.4,843.5 L195.9,861.9 L196.4,843.5 L196.9,836.9 L197.7,838.5 L198.6,831.8 L199.4,830.6 L199.2,841.8 L200.0,833.5 L200.9,829.3 L202.1,828.9 L202.5,837.6 L203.4,846.8 L203.8,858.5 L204.6,861.9 L205.0,850.2 L205.5,836.8 L206.7,836.0 L207.5,831.8 L208.4,831.4 L208.8,841.8 L209.1,854.4 L209.4,864.8 L210.2,864.8 L210.6,850.2 L210.9,833.5 L211.3,825.1 L211.7,821.9 L212.7,821.7 L213.2,827.6 L213.6,833.5 L213.0,840.1 L213.8,843.5 L214.4,846.8 L215.1,850.2 L215.9,854.4 L216.6,855.6" fill="none" stroke="#ff0000" stroke-width="2.3" stroke-linejoin="round"/>
<path d="M792.7,864.9 L794.1,868.9" fill="none" stroke="#ff0000" stroke-width="2.3" stroke-linejoin="round"/>
<path d="M795.7,861.5 L797.1,860.3 L797.7,879.9 L798.7,893.8 L799.3,898.8" fill="none" stroke="#ff0000" stroke-width="2.3" stroke-linejoin="round"/>
<path d="M801.3,901.8 L799.7,911.8 L802.9,911.8 L801.3,901.8" fill="none" stroke="#ff0000" stroke-width="2.3" stroke-linejoin="round"/>
<path d="M140.3,833.8 L146.0,835.6 L151.6,837.3 L157.3,839.0 L163.0,840.6 L168.6,842.2 L174.3,843.8 L180.0,845.3 L185.6,846.8 L191.3,848.2 L197.0,849.6 L202.6,850.9 L208.3,852.2 L214.0,853.5 L219.6,854.7 L225.3,855.9 L231.0,857.1 L236.6,858.2 L242.3,859.3 L248.0,860.4 L253.6,861.4 L259.3,862.4 L265.0,863.4 L270.6,864.4 L276.3,865.3 L282.0,866.2 L287.6,867.1 L293.3,867.9 L299.0,868.8 L304.6,869.6 L310.3,870.4 L316.0,871.1 L321.6,871.9 L327.3,872.6 L333.0,873.3 L338.6,874.0 L344.3,874.6 L350.0,875.3 L355.6,875.9 L361.3,876.5 L367.0,877.1 L372.6,877.6 L378.3,878.2 L384.0,878.7 L389.7,879.3 L395.3,879.8 L401.0,880.3 L406.7,880.8 L412.3,881.2 L418.0,881.7 L423.7,882.1 L429.3,882.6 L435.0,883.0 L440.7,883.4 L446.3,883.8 L452.0,884.2 L457.7,884.5 L463.3,884.9 L469.0,885.2 L474.7,885.6 L480.3,885.9 L486.0,886.2 L491.7,886.6 L497.3,886.9 L503.0,887.2 L508.7,887.4 L514.3,887.7 L520.0,888.0 L525.7,888.3 L531.3,888.5 L537.0,888.8 L542.7,889.0 L548.3,889.3 L554.0,889.5 L559.7,889.7 L565.3,889.9 L571.0,890.1 L576.7,890.3 L582.3,890.5 L588.0,890.7 L593.7,890.9 L599.3,891.1 L605.0,891.3 L610.7,891.5 L616.3,891.6 L622.0,891.8 L627.7,891.9 L633.3,892.1 L639.0,892.2 L644.7,892.4 L650.3,892.5 L656.0,892.7 L661.7,892.8 L667.3,892.9 L673.0,893.1 L678.7,893.2 L684.3,893.3 L690.0,893.4 L695.7,893.5 L701.3,893.6 L707.0,893.7 L712.7,893.9 L718.3,894.0 L724.0,894.1 L729.7,894.1 L735.3,894.2 L741.0,894.3 L746.7,894.4 L752.3,894.5 L758.0,894.6 L763.7,894.7 L769.3,894.7 L775.0,894.8 L780.7,894.9 L786.3,895.0 L792.0,895.0 L797.7,895.1 L803.3,895.2" fill="none" stroke="#0000ff" stroke-width="4.1"/>
<rect x="586.5" y="606.5" width="239.8" height="97.6" fill="#fff" stroke="#4a4a4a" stroke-width="1.15"/>
<line x1="590.2" y1="632.3" x2="618.2" y2="632.3" stroke="#ff0000" stroke-width="2.4"/>
<line x1="590.2" y1="679.5" x2="618.2" y2="679.5" stroke="#0000ff" stroke-width="4.0"/>
<text class="lg" x="620.2" y="646.2" font-size="37.3">Experiment</text>
<text class="lg" x="620.2" y="693.2" font-size="37.3">Simulation</text>
<text font-size="34" fill="#000" stroke="#000" stroke-width="0.4" transform="translate(104.0,633.3) scale(0.9,1)">(</text>
<text font-size="36" fill="#000" stroke="#000" stroke-width="0.4" x="115.5" y="634.5">b</text>
<text font-size="34" fill="#000" stroke="#000" stroke-width="0.4" transform="translate(136.9,633.3) scale(0.9,1)">)</text>
</svg></body></html>
